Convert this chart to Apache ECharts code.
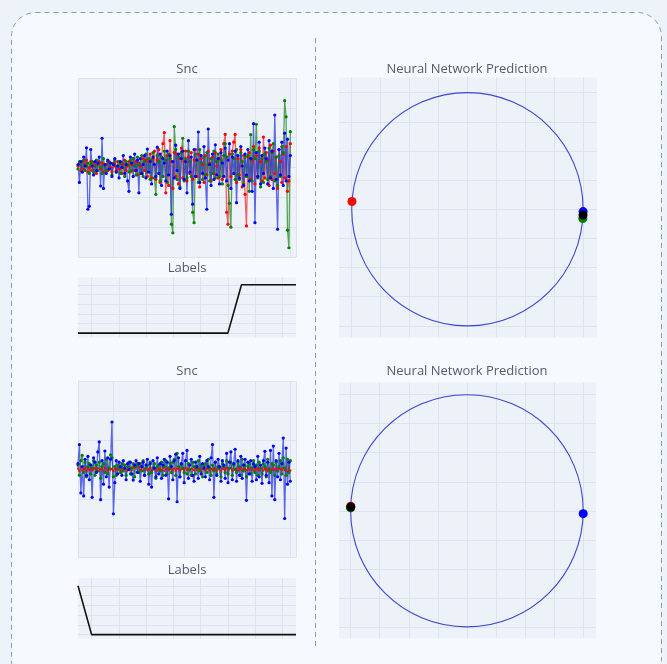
<!DOCTYPE html>
<html>
<head>
<meta charset="utf-8">
<title>Snc / Labels / Neural Network Prediction</title>
<script src="https://cdn.jsdelivr.net/npm/echarts@6/dist/echarts.min.js"></script>
<style>
  html, body { margin: 0; padding: 0; background: #eef3f9; }
  #chart { width: 667px; height: 664px; }
</style>
</head>
<body>
<div id="chart"></div>
<script>
// ---- Sample 1: three Snc channels ----
const sncTopRed = [
  0.05, 0.15, -0.10, 0.20, -0.05, 0.10, 0.25, -0.15, 0.00, 0.20,
  -0.10, 0.15, 0.05, -0.20, 0.10, 0.20, -0.05, 0.15, -0.15, 0.05,
  0.10, -0.10, 0.20, 0.00, -0.15, 0.15, 0.05, -0.10, 0.20, -0.05,
  0.15, -0.20, 0.10, 0.25, -0.10, 0.05, 0.20, -0.15, 0.10, 0.30,
  -0.10, 0.20, -0.25, 0.15, 0.05, -0.20, 0.30, -0.10, 0.25, -0.30,
  0.20, 0.45, -0.35, 0.30, 0.55, -0.40, 0.25, 0.60, -0.50, 0.35,
  0.80, 1.17, -0.85, 0.40, -0.60, 0.90, 0.20, -0.70, 0.50, -0.30,
  0.45, -0.55, 0.30, 0.65, -0.35, 0.20, 0.55, -0.45, 0.35, -0.20,
  0.50, -0.40, 0.25, 0.60, -0.30, 0.45, -0.65, 0.30, 0.10, -0.50,
  0.40, -0.25, 0.55, 0.15, -0.45, 0.35, -0.20, 0.50, 0.05, -0.35,
  0.30, 0.60, -0.40, 0.80, 1.11, -1.50, -1.90, 0.45, -0.30, 0.55,
  0.85, 1.11, -0.50, 0.30, -0.25, 0.60, -0.65, 0.40, -0.90, -1.96,
  0.35, 0.50, -0.40, 0.25, 0.70, -0.55, 0.40, -0.30, 0.65, 0.20,
  -0.45, 1.02, -0.35, 0.50, 0.25, -0.60, 0.75, -0.40, 0.55, -0.20,
  0.35, -0.70, 0.60, 0.20, -0.50, 0.45, -0.35, 0.70, -0.80, -0.45,
  0.80
];
const sncTopGreen = [
  -0.05, 0.20, 0.10, -0.15, 0.25, -0.10, 0.05, 0.15, -0.20, 0.10,
  0.20, -0.15, 0.05, 0.25, -0.10, 0.15, 0.00, -0.20, 0.30, 0.05,
  -0.10, 0.20, -0.05, 0.15, -0.25, 0.10, 0.25, -0.15, 0.05, 0.20,
  -0.20, 0.15, 0.00, -0.30, 0.20, 0.10, -0.15, 0.25, -0.10, 0.30,
  0.05, -0.25, 0.35, 0.10, -0.20, 0.40, -0.30, 0.20, 0.45, -0.15,
  0.30, -0.40, 0.25, 0.50, -0.35, -0.90, 0.40, 0.20, -0.45, 0.35,
  -0.30, 0.55, 0.25, -0.50, 0.45, 0.30, -1.90, -2.19, 1.37, 0.60,
  -0.40, 0.35, -0.65, 0.50, 0.98, -0.45, 0.30, -0.35, 0.55, 0.20,
  -0.30, -1.50, -1.85, 0.45, 0.25, -0.50, 0.60, 0.15, -0.40, 0.35,
  -0.25, 0.50, 0.10, -0.45, 0.30, -0.20, 0.55, -0.35, 0.20, 0.45,
  -0.30, 0.25, -0.55, 0.40, 0.80, 0.35, -0.60, -1.20, -2.00, 0.45,
  0.30, -0.40, 0.60, -0.25, -0.40, 0.50, 0.20, -0.55, 0.35, -0.30,
  0.40, -0.80, 1.10, -0.45, 0.60, 0.30, 1.45, -0.35, 0.55, -0.65,
  0.30, -0.50, 0.45, 0.20, -0.40, 0.65, -0.30, 0.50, 0.80, -0.45,
  0.35, -0.60, 0.40, -0.30, 0.70, 0.50, 2.24, 1.70, -2.10, -2.69,
  1.20
];
const sncTopBlue = [
  0.10, -0.50, 0.20, -0.15, 0.35, 0.05, 0.66, -1.40, -1.30, 0.60,
  0.05, -0.25, 0.20, -0.10, 0.15, 0.35, -0.62, 0.98, -0.70, 0.10,
  -0.20, 0.25, -0.05, 0.15, -0.30, 0.10, 0.30, -0.15, 0.05, -0.35,
  0.20, 0.00, 0.40, -0.20, 0.10, -0.45, -0.80, 0.35, 0.15, -0.30,
  0.45, -0.10, 0.25, -0.85, 0.30, -0.20, 0.10, 0.40, -0.35, 0.62,
  -0.15, 0.20, -0.55, 0.35, 0.10, -0.30, 0.68, -0.20, 0.45, -0.60,
  0.30, 0.15, -0.45, 0.55, -0.25, 0.40, -1.57, 0.20, -0.35, 0.75,
  -0.10, 0.45, -0.70, 0.30, 0.55, -0.40, 0.20, -0.85, 0.90, -0.15,
  0.35, -1.23, 0.60, -0.30, 0.25, 1.19, -0.50, 0.40, -0.20, 0.70,
  -0.35, -1.40, 1.29, 0.10, -0.60, 0.45, -0.40, 0.76, -0.25, 0.30,
  -0.55, 0.50, 0.15, -0.30, 0.65, -0.45, 0.25, 0.80, -0.70, 0.35,
  -0.20, 0.55, -1.18, 0.40, -0.35, 0.70, 0.05, -0.60, 0.45, -0.25,
  0.60, -0.45, 0.30, -0.80, 1.47, -1.85, 0.50, -0.30, 0.85, -0.55,
  0.40, -0.20, 0.65, 0.30, -0.55, 0.90, -0.35, 0.55, -0.70, 1.76,
  -0.40, -2.07, 0.60, -0.25, 0.85, -0.60, 1.15, -0.45, 0.95, -0.30,
  0.40
];
const labelsTop = [0, 0, 0, 0, 0, 0, 0, 0, 0, 0, 0, 0, 1, 1, 1, 1, 1];

// network outputs on the unit circle (x, y) for sample 1
const predTopRed = [-0.998, 0.066];
const predTopGreen = [0.997, -0.080];
const predTopBlue = [1.000, -0.020];
const predTopBlack = [0.999, -0.050];

// ---- Sample 2 ----
const sncBottomRed = [
  0.03, -0.05, 0.06, -0.03, 0.01, 0.05, -0.06, 0.02, -0.02, 0.04,
  -0.04, 0.02, 0.05, -0.02, 0.04, -0.05, 0.01, 0.03, -0.04, 0.06,
  0.00, -0.03, 0.05, -0.01, 0.02, -0.05, 0.04, 0.01, -0.02, 0.04,
  -0.02, 0.03, -0.05, 0.05, 0.01, -0.04, 0.02, 0.06, -0.03, 0.08,
  0.05, 0.12, 0.23, 0.08, -0.02, 0.04, -0.05, 0.02, 0.04, -0.03,
  0.01, 0.05, -0.04, 0.02, -0.01, 0.05, -0.04, 0.03, 0.01, -0.02,
  0.04, -0.05, 0.02, 0.05, -0.03, 0.01, 0.04, -0.02, 0.03, -0.05,
  0.02, 0.05, -0.04, 0.01, 0.04, -0.02, 0.05, -0.01, 0.02, -0.04,
  0.03, 0.01, -0.03, 0.04, -0.02, 0.05, 0.01, -0.05, 0.02, 0.04,
  -0.02, 0.02, 0.05, -0.04, 0.03, -0.01, 0.04, 0.00, -0.03, 0.05,
  0.02, -0.04, 0.04, 0.01, -0.02, 0.05, -0.02, 0.03, 0.06, -0.04,
  0.02, -0.01, 0.04, -0.05, 0.02, 0.04, -0.03, 0.05, 0.01, -0.02,
  0.04, -0.02, 0.05, 0.01, -0.04, 0.03, -0.01, 0.04, -0.03, 0.02,
  0.05, -0.04, 0.02, 0.01, -0.05, 0.04, 0.02, -0.02, 0.05, -0.01,
  0.03, -0.06, 0.04, 0.01, -0.03, 0.05, -0.02, 0.04, -0.07, 0.02,
  -0.04
];
const sncBottomGreen = [
  0.15, -0.20, 0.30, 0.48, -0.10, 0.25, -0.25, 0.10, 0.20, -0.15,
  0.05, 0.30, -0.20, 0.15, -0.05, 0.25, -0.30, 0.10, 0.20, -0.10,
  0.35, -0.15, 0.05, 0.50, 0.40, -0.25, 0.10, -0.20, 0.15, 0.05,
  -0.10, 0.20, -0.05, 0.15, -0.20, 0.10, 0.25, -0.15, 0.05, 0.20,
  -0.25, 0.10, 0.15, -0.10, 0.20, -0.05, 0.30, -0.20, 0.05, 0.15,
  -0.15, 0.25, -0.10, 0.05, 0.20, -0.30, 0.10, 0.15, -0.05, 0.25,
  -0.20, 0.10, 0.30, -0.15, 0.05, 0.20, -0.10, 0.25, 0.35, -0.20,
  0.55, 0.10, -0.25, 0.15, 0.05, -0.10, 0.30, -0.15, 0.20, 0.00,
  -0.20, 0.25, 0.10, -0.15, 0.05, 0.30, -0.05, 0.15, -0.25, 0.10,
  0.20, -0.10, 0.35, 0.05, -0.20, 0.15, -0.05, 0.25, -0.15, 0.10,
  0.05, -0.25, 0.20, 0.10, -0.10, 0.30, -0.15, 0.05, 0.25, -0.20,
  0.15, 0.00, -0.10, 0.25, 0.10, -0.20, 0.35, -0.05, 0.15, -0.25,
  0.10, 0.20, -0.15, 0.05, 0.30, -0.10, 0.15, -0.20, 0.25, 0.05,
  -0.15, 0.20, 0.10, -0.25, 0.35, 0.00, -0.10, 0.20, 0.15, -0.20,
  0.25, -0.05, 0.10, 0.30, -0.15, 0.40, 0.05, -0.20, 0.35, -0.10,
  0.30
];
const sncBottomBlue = [
  0.20, 0.85, -0.80, 0.10, -0.90, 0.35, -0.20, 0.45, -0.35, 0.15,
  -0.95, 0.40, 0.25, -0.10, 0.60, 0.94, -1.03, 0.30, -0.50, 0.63,
  -0.25, 0.40, -0.60, 0.35, 1.62, -1.51, -0.45, 0.30, -0.15, 0.25,
  0.10, -0.20, 0.30, 0.05, -0.35, 0.20, 0.00, 0.25, -0.15, -0.36,
  0.15, 0.30, -0.10, 0.20, -0.40, 0.10, 0.25, -0.20, 0.15, 0.35,
  -0.50, 0.20, -0.60, 0.30, 0.05, -0.25, 0.40, -0.15, 0.20, -0.30,
  0.15, 0.35, -0.20, 0.25, -1.00, 0.45, 0.10, -0.35, 0.30, 0.52,
  -1.10, 0.40, -0.25, 0.20, 0.55, -0.45, 0.30, 0.65, -0.30, 0.15,
  0.35, -0.20, -0.40, 0.25, 0.10, -0.30, 0.45, -0.15, 0.20, 0.05,
  -0.25, 0.30, 0.10, -0.35, 0.40, 0.85, -0.95, 0.25, -0.20, 0.35,
  0.10, -0.40, 0.30, 0.15, -0.30, 0.55, -0.45, 0.25, 0.60, -0.35,
  0.20, 0.69, -0.40, 0.30, -0.20, 0.45, -0.30, 0.15, 0.35, -1.05,
  0.25, -0.15, 0.30, -0.40, 0.20, 0.10, -0.35, 0.45, -0.25, 0.15,
  -0.47, 0.30, 0.62, -0.20, 0.25, -0.45, 0.65, -0.90, 0.80, -1.03,
  0.30, -0.25, 0.55, -0.35, 0.20, 1.07, -1.67, 0.73, -0.50, 0.25,
  -0.40
];
const labelsBottom = [1, 0, 0, 0, 0, 0, 0, 0, 0, 0, 0, 0, 0, 0, 0, 0, 0];

const predBottomRed = [-0.999, 0.040];
const predBottomGreen = [-1.000, 0.025];
const predBottomBlue = [1.000, -0.025];
const predBottomBlack = [-0.999, 0.033];

// ---- axis grid positions ----
const labelXTicks = [1, 3, 5, 7, 9, 11, 13, 15];
const labelYTicks = [0, 0.2, 0.4, 0.6, 0.8, 1];
const predTicks = [-1, -0.75, -0.5, -0.25, 0, 0.25, 0.5, 0.75, 1];
const unitCircle = [[0, 0, 1]]; // centre x, centre y, radius

// ---- styling ----
const FONT = "'Open Sans', 'Noto Sans', sans-serif";
const PLOT_BG = '#edf1f8';
const GRID_LINE = '#dde2ec';
const TITLE_COLOR = '#555b6f';

const panels = [
  { left: 78, top: 78, width: 218, height: 179 },   // 0 Snc (1)
  { left: 78, top: 277.5, width: 218, height: 60 }, // 1 Labels (1)
  { left: 339, top: 77.5, width: 258, height: 260 },// 2 Prediction (1)
  { left: 78, top: 381.5, width: 218, height: 176 },// 3 Snc (2)
  { left: 78, top: 578, width: 218, height: 60.5 }, // 4 Labels (2)
  { left: 339, top: 382.5, width: 257, height: 256 } // 5 Prediction (2)
];

const grids = panels.map(p => Object.assign({
  show: true, backgroundColor: PLOT_BG, borderWidth: 0, containLabel: false
}, p));

function gridAxis(index, extra) {
  return Object.assign({
    type: 'value', gridIndex: index,
    axisLine: { show: false }, axisLabel: { show: false },
    axisTick: { show: false },
    splitLine: { show: true, lineStyle: { color: GRID_LINE, width: 1 } }
  }, extra);
}

const xAxes = [
  gridAxis(0, { min: 0, max: 154, interval: 25 }),
  gridAxis(1, { min: 0, max: 16, axisTick: { show: false, customValues: labelXTicks } }),
  gridAxis(2, { min: -1.11, max: 1.12, axisTick: { show: false, customValues: predTicks } }),
  gridAxis(3, { min: 0, max: 154, interval: 25 }),
  gridAxis(4, { min: 0, max: 16, axisTick: { show: false, customValues: labelXTicks } }),
  gridAxis(5, { min: -1.1, max: 1.11, axisTick: { show: false, customValues: predTicks } })
];
const yAxes = [
  gridAxis(0, { min: -3, max: 3, interval: 1 }),
  gridAxis(1, { min: -0.09, max: 1.15, axisTick: { show: false, customValues: labelYTicks } }),
  gridAxis(2, { min: -1.1, max: 1.13, axisTick: { show: false, customValues: predTicks } }),
  gridAxis(3, { min: -3, max: 3, interval: 1 }),
  gridAxis(4, { min: -0.08, max: 1.16, axisTick: { show: false, customValues: labelYTicks } }),
  gridAxis(5, { min: -1.1, max: 1.105, axisTick: { show: false, customValues: predTicks } })
];

function signal(values, color, lineColor, axisIndex, size, width) {
  return {
    type: 'line', xAxisIndex: axisIndex, yAxisIndex: axisIndex,
    data: values.map((v, i) => [i, v]),
    symbol: 'circle', symbolSize: size || 3.2,
    itemStyle: { color: color },
    lineStyle: { color: lineColor, width: width || 1.3, opacity: 0.75 },
    animation: false, silent: true
  };
}
function labelLine(values, axisIndex) {
  return {
    type: 'line', xAxisIndex: axisIndex, yAxisIndex: axisIndex,
    data: values.map((v, i) => [i, v]),
    showSymbol: false, symbol: 'none',
    lineStyle: { color: '#111111', width: 1.6 },
    animation: false, silent: true
  };
}
function circleGuide(axisIndex) {
  return {
    type: 'custom', xAxisIndex: axisIndex, yAxisIndex: axisIndex,
    data: unitCircle, silent: true, animation: false,
    renderItem: function (params, api) {
      const c = api.coord([api.value(0), api.value(1)]);
      const s = api.size([api.value(2), api.value(2)]);
      return {
        type: 'ellipse',
        shape: { cx: c[0], cy: c[1], rx: s[0], ry: s[1] },
        style: { fill: 'none', stroke: '#3d46cf', lineWidth: 1.1 }
      };
    }
  };
}
function dot(point, color, axisIndex) {
  return {
    type: 'scatter', xAxisIndex: axisIndex, yAxisIndex: axisIndex,
    data: [point], symbolSize: 9, itemStyle: { color: color, opacity: 1 },
    animation: false, silent: true
  };
}

const series = [
  signal(sncTopRed, '#ff0000', '#f03030', 0),
  signal(sncTopGreen, '#007f00', '#1f8a1f', 0),
  signal(sncTopBlue, '#0000ff', '#2a3ae0', 0),
  labelLine(labelsTop, 1),
  circleGuide(2),
  dot(predTopRed, '#ff0000', 2),
  dot(predTopGreen, '#007f00', 2),
  dot(predTopBlue, '#0000ff', 2),
  dot(predTopBlack, '#000000', 2),
  signal(sncBottomRed, '#ff0000', '#f03030', 3, 2.2, 0.8),
  signal(sncBottomGreen, '#007f00', '#1f8a1f', 3),
  signal(sncBottomBlue, '#0000ff', '#2a3ae0', 3),
  labelLine(labelsBottom, 4),
  circleGuide(5),
  dot(predBottomRed, '#ff0000', 5),
  dot(predBottomGreen, '#007f00', 5),
  dot(predBottomBlue, '#0000ff', 5),
  dot(predBottomBlack, '#000000', 5)
];

function panelTitle(text, centerX, centerY) {
  return {
    text: text, left: centerX, top: centerY - 9, textAlign: 'center',
    padding: 0,
    textStyle: { fontFamily: FONT, fontSize: 13, fontWeight: 'normal', color: TITLE_COLOR, lineHeight: 18 }
  };
}

const option = {
  backgroundColor: 'transparent',
  animation: false,
  title: [
    panelTitle('Snc', 187, 69.5),
    panelTitle('Labels', 187, 268),
    panelTitle('Neural Network Prediction', 467, 69.5),
    panelTitle('Snc', 187, 371.5),
    panelTitle('Labels', 187, 570.5),
    panelTitle('Neural Network Prediction', 467, 371)
  ],
  graphic: [
    {
      type: 'rect', z: -100, silent: true,
      shape: { x: 11.5, y: 12.5, width: 650, height: 672, r: 24 },
      style: { fill: '#f6f9fd', stroke: '#7f9bd5', lineWidth: 1, lineDash: [5, 4] }
    },
    {
      type: 'line', z: -90, silent: true,
      shape: { x1: 315.5, y1: 38, x2: 315.5, y2: 650 },
      style: { stroke: '#7f9bd5', lineWidth: 1, lineDash: [5, 4] }
    }
  ],
  grid: grids,
  xAxis: xAxes,
  yAxis: yAxes,
  series: series
};

const chart = echarts.init(document.getElementById('chart'), null, { renderer: 'canvas' });
chart.setOption(option);
</script>
</body>
</html>
